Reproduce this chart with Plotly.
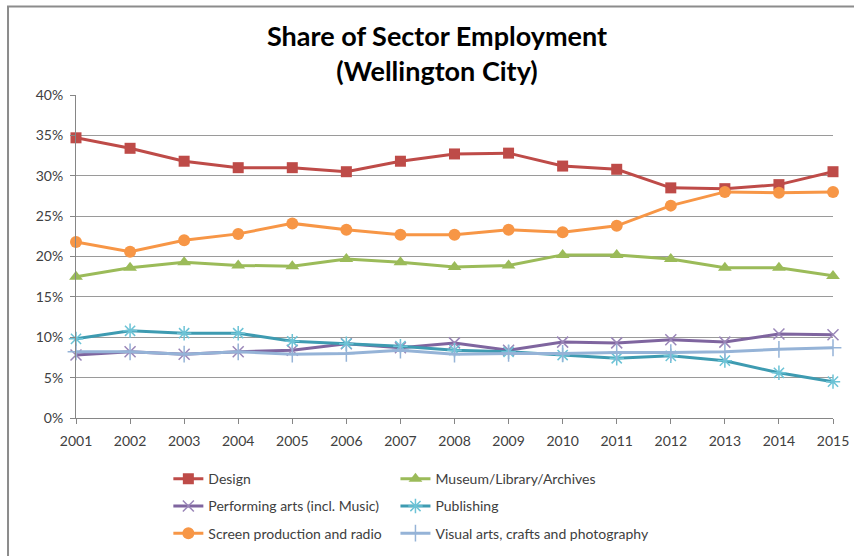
import plotly.graph_objects as go

years = list(range(2001, 2016))
design = [34.7, 33.4, 31.8, 31.0, 31.0, 30.5, 31.8, 32.7, 32.8, 31.2, 30.8, 28.5, 28.4, 28.9, 30.5]
museum = [17.5, 18.6, 19.3, 18.9, 18.8, 19.7, 19.3, 18.7, 18.9, 20.2, 20.2, 19.7, 18.6, 18.6, 17.6]
performing = [7.8, 8.2, 7.9, 8.2, 8.4, 9.2, 8.7, 9.3, 8.4, 9.4, 9.3, 9.7, 9.4, 10.4, 10.3]
publishing = [9.8, 10.8, 10.5, 10.5, 9.5, 9.2, 8.9, 8.4, 8.2, 7.8, 7.4, 7.7, 7.1, 5.6, 4.5]
screen = [21.8, 20.6, 22.0, 22.8, 24.1, 23.3, 22.7, 22.7, 23.3, 23.0, 23.8, 26.3, 28.0, 27.9, 28.0]
visual = [8.2, 8.2, 7.9, 8.2, 7.9, 8.0, 8.4, 7.9, 8.0, 8.0, 8.1, 8.1, 8.2, 8.5, 8.7]

y_ticks = [0, 5, 10, 15, 20, 25, 30, 35, 40]

series = [
    ("Design", design, "#BE4B48", dict(symbol="square", size=11), "legend"),
    ("Performing arts (incl. Music)", performing, "#7F659F",
     dict(symbol="x-thin", size=11, line=dict(width=1.5, color="#9A86B8")), "legend"),
    ("Screen production and radio", screen, "#F79646", dict(symbol="circle", size=12), "legend"),
    ("Museum/Library/Archives", museum, "#9BBB59", dict(symbol="triangle-up", size=12), "legend2"),
    ("Publishing", publishing, "#3E9BB1",
     dict(symbol="asterisk", size=12, line=dict(width=1.5, color="#6CC3D6")), "legend2"),
    ("Visual arts, crafts and photography", visual, "#95B3D7",
     dict(symbol="cross-thin", size=12, line=dict(width=1.5, color="#95B3D7")), "legend2"),
]

fig = go.Figure()
for i, (name, vals, color, marker, leg) in enumerate(series):
    m = dict(color=color)
    m.update(marker)
    fig.add_trace(go.Scatter(
        x=years, y=vals, name=name, mode="lines+markers",
        line=dict(color=color, width=3), marker=m,
        legend=leg, legendgroup=name, cliponaxis=False,
        hovertemplate="%{x}: %{y:.1f}%<extra>" + name + "</extra>",
    ))

font_family = "Lato, 'Open Sans', sans-serif"

fig.update_layout(
    width=854, height=556,
    margin=dict(l=76, r=21, t=95, b=138, autoexpand=False),
    paper_bgcolor="white", plot_bgcolor="white",
    font=dict(family=font_family, size=14, color="#404040"),
    showlegend=True,
    legend=dict(x=0.122, y=-0.14, xanchor="left", yanchor="top",
                tracegroupgap=6, bgcolor="rgba(0,0,0,0)",
                font=dict(size=14, color="#404040")),
    legend2=dict(x=0.422, y=-0.14, xanchor="left", yanchor="top",
                 tracegroupgap=6, bgcolor="rgba(0,0,0,0)",
                 font=dict(size=14, color="#404040")),
    xaxis=dict(range=[2001, 2015], tickmode="array", tickvals=years,
               ticktext=[str(y) for y in years], showgrid=False,
               showline=True, linecolor="#868686", linewidth=1,
               ticks="outside", ticklen=5, tickcolor="#868686",
               ticklabelstandoff=5, automargin=False,
               tickfont=dict(size=14, color="#404040"), zeroline=False),
    yaxis=dict(range=[0, 40], tickmode="array", tickvals=y_ticks,
               ticktext=[f"{v}%" for v in y_ticks],
               showgrid=True, gridcolor="#9A9A9A", gridwidth=1,
               showline=True, linecolor="#868686", linewidth=1,
               ticks="outside", ticklen=5, tickcolor="#868686",
               ticklabelstandoff=4, automargin=False,
               tickfont=dict(size=14, color="#404040"), zeroline=False),
    annotations=[dict(
        text="<b>Share of Sector Employment<br>(Wellington City)</b>",
        xref="paper", yref="paper", x=0.477, y=1.0 + (95 - 17) / 323,
        xanchor="center", yanchor="top", showarrow=False,
        font=dict(family=font_family, size=27, color="black"),
    )],
    shapes=[dict(type="rect", xref="paper", yref="paper",
                 x0=-0.0898, x1=1.05, y0=-0.5, y1=1.274,
                 line=dict(color="#8C8C8C", width=2), layer="below")],
)

fig.write_html("out.html")
